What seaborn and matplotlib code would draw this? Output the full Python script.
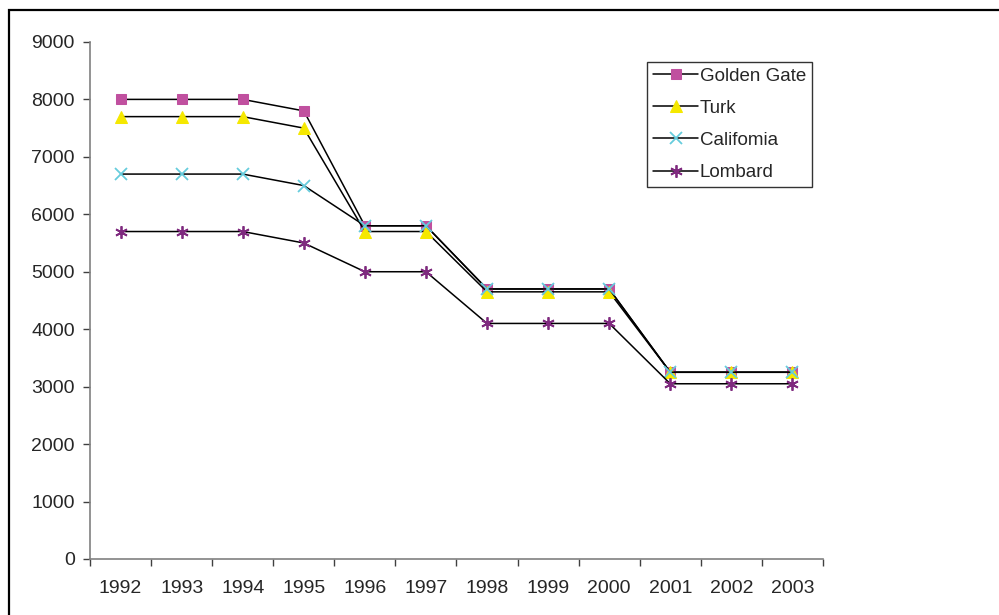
import seaborn as sns
import pandas as pd
import matplotlib.pyplot as plt
import matplotlib.patches as mpatches

years = ["1992", "1993", "1994", "1995", "1996", "1997",
         "1998", "1999", "2000", "2001", "2002", "2003"]
golden_gate = [8000, 8000, 8000, 7800, 5800, 5800, 4700, 4700, 4700, 3250, 3250, 3250]
turk = [7700, 7700, 7700, 7500, 5700, 5700, 4650, 4650, 4650, 3250, 3250, 3250]
california = [6700, 6700, 6700, 6500, 5800, 5800, 4700, 4700, 4700, 3250, 3250, 3250]
lombard = [5700, 5700, 5700, 5500, 5000, 5000, 4100, 4100, 4100, 3050, 3050, 3050]

series_names = ["Golden Gate", "Turk", "California", "Lombard"]
series_values = [golden_gate, turk, california, lombard]


def buildFrame():
    rows = []
    for name, vals in zip(series_names, series_values):
        for i, v in enumerate(vals):
            rows.append({"series": name, "idx": i, "value": v})
    return pd.DataFrame(rows)


def plotData(df):
    sns.set_style("white")
    plt.rcParams["font.family"] = ["Liberation Sans", "DejaVu Sans"]

    fig = plt.figure(figsize=(9.99, 6.15), dpi=100)
    ax = fig.add_axes([0.0901, 0.0911, 0.7337, 0.8407])

    # marker look per series (excel style)
    styles = {
        "Golden Gate": dict(marker="s", markerfacecolor="#C0509F", markeredgecolor="#C0509F", markersize=7),
        "Turk": dict(marker="^", markerfacecolor="#F5E800", markeredgecolor="#F5E800", markersize=9),
        "California": dict(marker="x", markerfacecolor="none", markeredgecolor="#66CCDD", markersize=9, markeredgewidth=1.3),
        "Lombard": dict(marker=(6, 2, 0), markerfacecolor="none", markeredgecolor="#7F2A7F", markersize=9, markeredgewidth=1.3),
    }

    for name in series_names:
        sub = df[df["series"] == name]
        sns.lineplot(data=sub, x="idx", y="value", ax=ax, color="black",
                     linewidth=1.1, label=name, **styles[name])

    ax.set_xlim(-0.5, len(years) - 0.5)
    ax.set_ylim(0, 9000)
    ax.set_yticks(range(0, 9001, 1000))
    ax.set_xticks(range(len(years)))
    ax.set_xticklabels(years)
    ax.set_xticks([i - 0.5 for i in range(len(years) + 1)], minor=True)
    ax.set_xlabel("")
    ax.set_ylabel("")

    for s in ["top", "right"]:
        ax.spines[s].set_visible(False)
    for s in ["left", "bottom"]:
        ax.spines[s].set_color("#808080")
        ax.spines[s].set_linewidth(1.2)

    ax.tick_params(axis="y", which="major", direction="out", length=5, width=1,
                   color="#404040", left=True, labelsize=14, pad=6)
    ax.tick_params(axis="x", which="major", length=0, labelsize=14, pad=15)
    ax.tick_params(axis="x", which="minor", direction="out", length=5, width=1,
                   color="#404040", bottom=True)

    leg = ax.legend(loc="upper left", bbox_to_anchor=(0.76, 0.962), fontsize=13.5,
                    frameon=True, fancybox=False, edgecolor="black",
                    handlelength=2.4, handletextpad=0.1, borderpad=0.32,
                    labelspacing=0.8, borderaxespad=0)
    leg.get_frame().set_linewidth(1.0)
    leg.get_texts()[2].set_text("Califomia")

    # outer chart border
    border = mpatches.Rectangle((8.5 / 999, -0.2), 1.2, 1.2 - 9.5 / 615,
                                transform=fig.transFigure, fill=False,
                                edgecolor="black", linewidth=1.6)
    fig.add_artist(border)

    fig.savefig("out.png", dpi=100)


def main():
    df = buildFrame()
    plotData(df)


if __name__ == "__main__":
    main()
